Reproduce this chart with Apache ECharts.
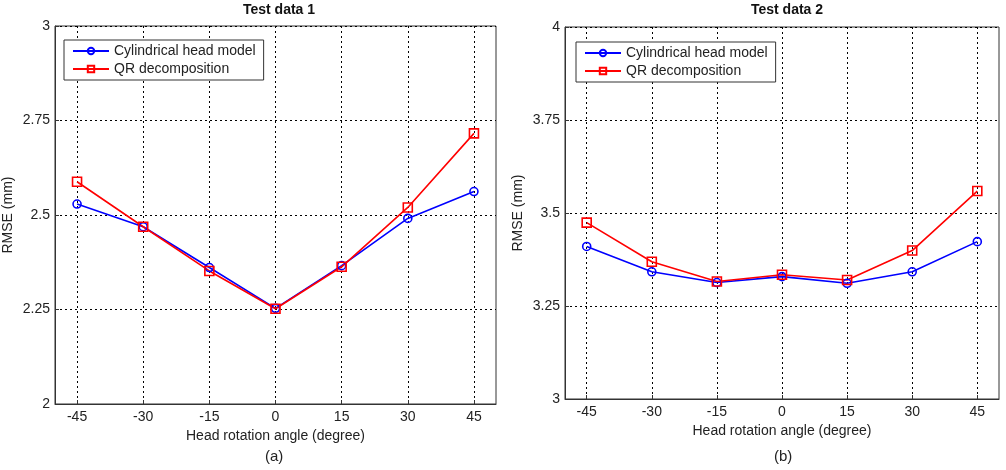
<!DOCTYPE html>
<html>
<head>
<meta charset="utf-8">
<script src="https://cdn.jsdelivr.net/npm/echarts@6/dist/echarts.min.js"></script>
<style>
  html, body { margin: 0; padding: 0; background: #fff; }
  #chart { width: 1006px; height: 470px; }
</style>
</head>
<body>
<div id="chart"></div>
<script>
// head rotation angles (degree)
var angles = [-45, -30, -15, 0, 15, 30, 45];

// Test data 1
var chm1 = [2.529, 2.469, 2.361, 2.253, 2.366, 2.491, 2.562];
var qr1 = [2.588, 2.469, 2.352, 2.252, 2.363, 2.520, 2.716];

// Test data 2
var chm2 = [3.410, 3.342, 3.313, 3.329, 3.311, 3.342, 3.423];
var qr2 = [3.474, 3.369, 3.316, 3.334, 3.320, 3.399, 3.559];

var font = "'Liberation Sans', Arial, sans-serif";

function pairs(ys) {
  return angles.map(function (a, i) { return [a, ys[i]]; });
}

function xAxisOf(idx) {
  return {
    type: "value",
    gridIndex: idx,
    min: -50,
    max: 50,
    name: "Head rotation angle (degree)",
    nameLocation: "middle",
    nameGap: 24,
    nameTextStyle: { color: "#222", fontSize: 14, fontFamily: font },
    axisLine: { onZero: false, lineStyle: { color: "#333" } },
    axisTick: { inside: true, length: 4, customValues: angles, lineStyle: { color: "#333" } },
    axisLabel: { customValues: angles, color: "#222", fontSize: 14, fontFamily: font, margin: 6 },
    splitLine: { show: true, lineStyle: { color: "#000", type: [2, 3], width: 1 } }
  };
}

function yAxisOf(idx, min, max) {
  return {
    type: "value",
    gridIndex: idx,
    min: min,
    max: max,
    interval: 0.25,
    name: "RMSE (mm)",
    nameLocation: "middle",
    nameGap: 40,
    nameTextStyle: { color: "#222", fontSize: 14, fontFamily: font },
    axisLine: { show: true, onZero: false, lineStyle: { color: "#333" } },
    axisTick: { show: true, inside: true, length: 4, lineStyle: { color: "#333" } },
    axisLabel: { color: "#222", fontSize: 14, fontFamily: font, margin: 5 },
    splitLine: { show: true, lineStyle: { color: "#000", type: [2, 3], width: 1 } }
  };
}

function lineSeries(name, idx, ys, color, symbol, size) {
  return {
    name: name,
    type: "line",
    xAxisIndex: idx,
    yAxisIndex: idx,
    data: pairs(ys),
    symbol: symbol,
    symbolSize: size,
    showAllSymbol: true,
    color: color,
    lineStyle: { color: color, width: 1.6 },
    itemStyle: { color: "transparent", borderColor: color, borderWidth: 1.6 },
    animation: false
  };
}

function legendOf(left, top) {
  return {
    left: left,
    top: top,
    orient: "vertical",
    backgroundColor: "#fff",
    borderColor: "#333",
    borderWidth: 1,
    borderRadius: 0,
    padding: [4, 8, 4, 8],
    itemGap: 4,
    itemWidth: 36,
    itemHeight: 8,
    textStyle: { color: "#222", fontSize: 14, fontFamily: font },
    data: ["Cylindrical head model", "QR decomposition"]
  };
}

var chart = echarts.init(document.getElementById("chart"));
chart.setOption({
  backgroundColor: "#fff",
  animation: false,
  title: [
    { text: "Test data 1", left: 274, top: -2, textAlign: "center",
      textStyle: { fontSize: 14, fontWeight: "bold", color: "#111", fontFamily: font } },
    { text: "Test data 2", left: 782, top: -2, textAlign: "center",
      textStyle: { fontSize: 14, fontWeight: "bold", color: "#111", fontFamily: font } }
  ],
  legend: [legendOf(64, 40), legendOf(576, 42)],
  grid: [
    { left: 54, top: 26, width: 442, height: 378, show: true, borderColor: "#333", borderWidth: 1, backgroundColor: "#fff" },
    { left: 565, top: 27, width: 434, height: 372, show: true, borderColor: "#333", borderWidth: 1, backgroundColor: "#fff" }
  ],
  xAxis: [xAxisOf(0), xAxisOf(1)],
  yAxis: [yAxisOf(0, 2, 3), yAxisOf(1, 3, 4)],
  series: [
    lineSeries("Cylindrical head model", 0, chm1, "#0000ff", "circle", 8),
    lineSeries("QR decomposition", 0, qr1, "#ff0000", "rect", 9),
    lineSeries("Cylindrical head model", 1, chm2, "#0000ff", "circle", 8),
    lineSeries("QR decomposition", 1, qr2, "#ff0000", "rect", 9)
  ],
  graphic: [
    { type: "text", left: 265, top: 449, style: { text: "(a)", fontSize: 15, fontFamily: font, fill: "#222" } },
    { type: "text", left: 774, top: 449, style: { text: "(b)", fontSize: 15, fontFamily: font, fill: "#222" } }
  ]
});
</script>
</body>
</html>
